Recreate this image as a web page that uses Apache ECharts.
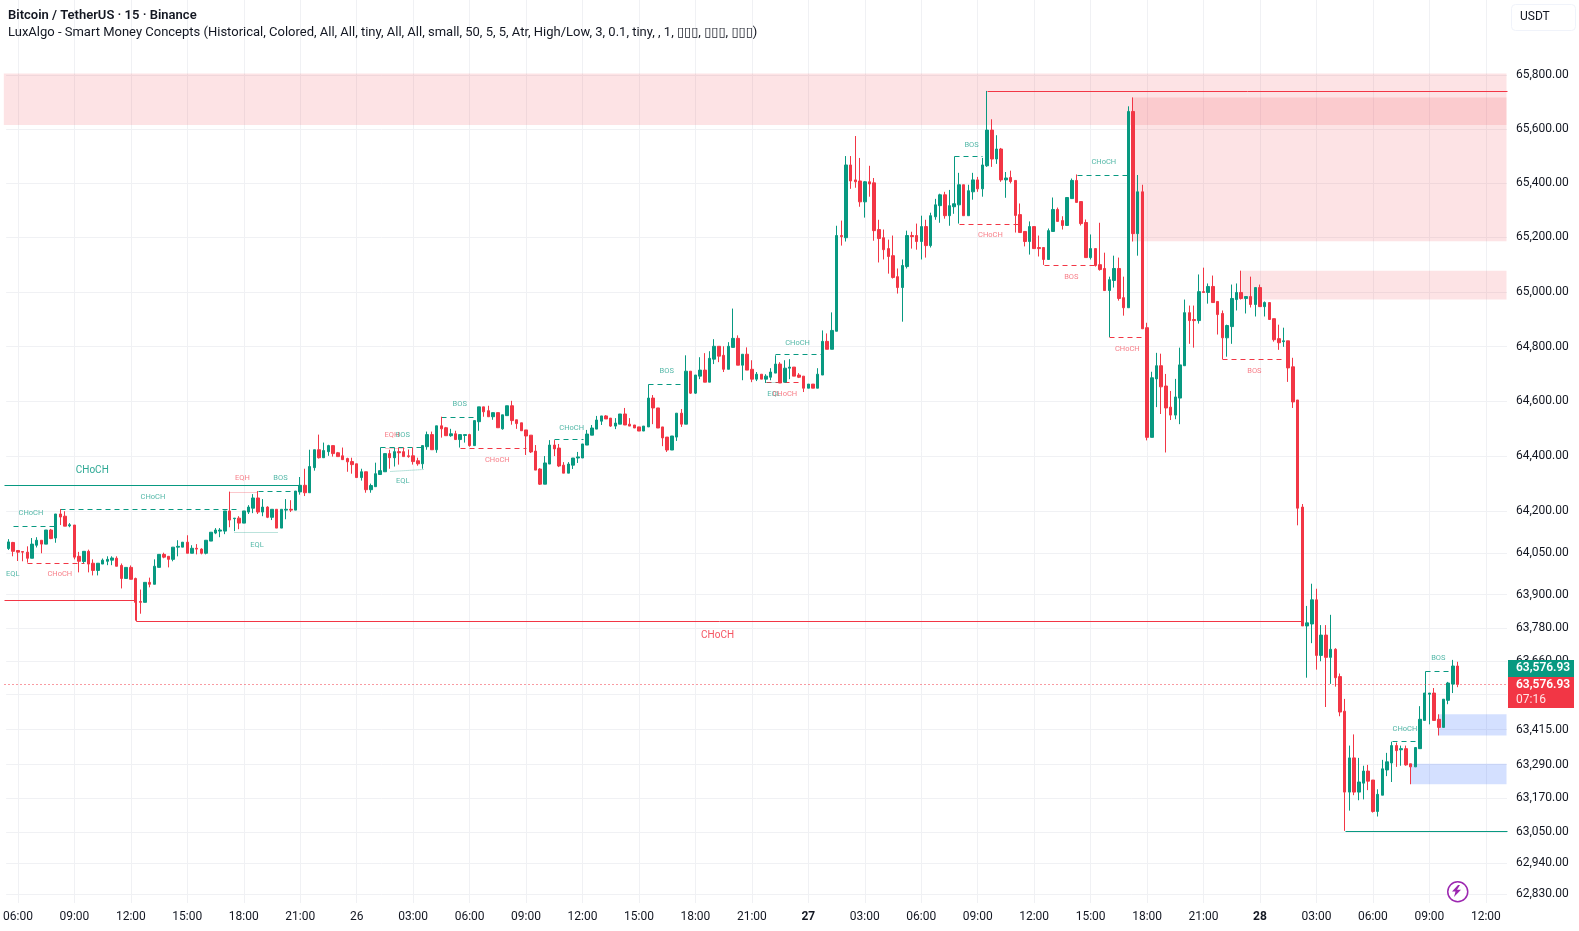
<!DOCTYPE html>
<html><head><meta charset="utf-8">
<style>html,body{margin:0;padding:0;background:#fff}#c{width:1579px;height:931px}</style>
<script src="https://cdn.jsdelivr.net/npm/echarts@6/dist/echarts.min.js"></script>
</head><body><div id="c"></div>
<script>
// tick labels every 12 bars, first one on bar 2
const timeTicks=["06:00","09:00","12:00","15:00","18:00","21:00","26","03:00","06:00","09:00","12:00","15:00","18:00","21:00","27","03:00","06:00","09:00","12:00","15:00","18:00","21:00","28","03:00","06:00","09:00","12:00"];
const priceTicks=[65800,65600,65400,65200,65000,64800,64600,64400,64200,64050,63900,63780,63660,63540,63415,63290,63170,63050,62940,62830];
const lastPrice=63576.93;
// [open, close, low, high]
const candlesDay25=[[64066,64090,64061,64100],[64088,64056,64038,64090],[64059,64053,64021,64059],[64055,64053,64020,64056],[64053,64031,64015,64074],[64031,64082,64031,64104],[64078,64096,64070,64107],[64096,64082,64049,64096],[64082,64133,64082,64133],[64133,64102,64100,64137],
[64104,64191,64087,64191],[64191,64180,64151,64209],[64183,64147,64147,64201],[64148,64152,64143,64158],[64151,64035,64027,64151],[64038,64020,63980,64054],[64019,64056,64013,64056],[64056,64010,63980,64062],[64013,63987,63969,64027],[63987,64013,63969,64013],
[64010,64024,64010,64030],[64020,64027,64006,64038],[64024,64032,64006,64038],[64031,64002,64002,64038],[64005,63958,63922,64012],[63958,63998,63958,63998],[63998,63955,63955,64005],[63958,63872,63806,63961],[63875,63872,63831,63918],[63872,63944,63872,63944],
[63944,63937,63926,63961],[63937,64002,63937,64027],[63998,64045,63998,64045],[64045,64035,64031,64051],[64038,64027,63998,64038],[64027,64071,64020,64071],[64071,64074,64038,64096],[64071,64089,64071,64089],[64089,64049,64049,64114],[64049,64067,64049,64078],
[64067,64064,64045,64082],[64064,64049,64045,64067],[64049,64096,64045,64096],[64093,64125,64093,64125],[64122,64133,64118,64140],[64129,64133,64107,64140],[64129,64202,64118,64202],[64202,64169,64143,64272],[64174,64176,64129,64176],[64176,64158,64136,64183],
[64158,64202,64158,64202],[64198,64216,64191,64223],[64212,64249,64194,64263],[64249,64198,64191,64274],[64198,64216,64183,64245],[64216,64179,64176,64219],[64179,64208,64169,64208],[64208,64140,64140,64208],[64140,64208,64140,64208],[64205,64208,64172,64245],
[64208,64205,64198,64241],[64205,64274,64205,64274],[64271,64295,64261,64325],[64295,64268,64256,64355],[64268,64363,64268,64424],[64359,64424,64348,64424],[64424,64395,64392,64479],[64395,64421,64395,64450],[64417,64439,64402,64442],[64439,64410,64399,64439],
[64413,64399,64399,64416],[64402,64388,64388,64432],[64392,64380,64344,64395],[64381,64370,64337,64395]];
const candlesDay26=[[64373,64323,64323,64373],[64323,64344,64312,64355],[64344,64279,64268,64344],[64279,64294,64268,64301],[64290,64337,64290,64377],[64334,64348,64334,64348],[64344,64410,64344,64410],[64410,64395,64355,64424],[64395,64417,64363,64432],[64417,64413,64370,64432],
[64417,64399,64399,64432],[64402,64399,64395,64425],[64402,64381,64370,64432],[64384,64373,64366,64395],[64373,64439,64355,64439],[64435,64479,64424,64490],[64479,64424,64424,64490],[64424,64511,64413,64511],[64511,64500,64468,64544],[64504,64475,64475,64507],
[64475,64482,64471,64500],[64482,64461,64461,64493],[64461,64479,64432,64479],[64476,64479,64450,64479],[64479,64439,64435,64482],[64439,64530,64439,64530],[64526,64580,64493,64580],[64580,64562,64544,64580],[64566,64544,64544,64584],[64544,64559,64533,64559],
[64559,64504,64504,64559],[64500,64551,64497,64551],[64548,64584,64548,64584],[64584,64530,64515,64602],[64533,64519,64500,64533],[64522,64493,64493,64522],[64496,64474,64405,64496],[64477,64416,64412,64477],[64419,64350,64350,64441],[64354,64299,64296,64357],
[64299,64376,64299,64401],[64372,64441,64372,64459],[64441,64427,64401,64459],[64430,64365,64361,64445],[64368,64339,64339,64379],[64339,64372,64339,64379],[64368,64394,64354,64394],[64394,64398,64376,64416],[64394,64445,64394,64445],[64441,64481,64441,64496],
[64477,64503,64477,64514],[64499,64532,64499,64547],[64528,64547,64514,64547],[64547,64536,64536,64550],[64539,64510,64507,64539],[64510,64521,64499,64539],[64517,64554,64517,64554],[64554,64514,64514,64576],[64517,64510,64510,64539],[64514,64503,64503,64514],
[64507,64492,64492,64507],[64492,64510,64492,64510],[64507,64612,64507,64612],[64612,64576,64517,64623],[64576,64503,64503,64576],[64507,64467,64437,64507],[64470,64423,64416,64470],[64423,64474,64423,64474],[64470,64557,64456,64557],[64557,64517,64507,64572],
[64517,64710,64517,64768],[64710,64630,64627,64710],[64630,64696,64627,64696],[64692,64714,64681,64761],[64714,64670,64670,64776],[64670,64757,64670,64783],[64754,64801,64736,64827],[64801,64765,64743,64801],[64768,64717,64707,64801],[64717,64801,64717,64816],
[64797,64830,64797,64939],[64830,64732,64732,64841],[64732,64772,64677,64772],[64772,64714,64714,64797],[64717,64681,64670,64750],[64681,64699,64674,64707],[64699,64681,64681,64699],[64681,64692,64667,64699],[64688,64707,64677,64721],[64703,64736,64703,64768],
[64736,64667,64667,64743],[64670,64721,64670,64750],[64721,64725,64681,64754],[64725,64692,64692,64725],[64696,64688,64685,64703],[64692,64648,64634,64692]];
const candlesDay27=[[64648,64663,64648,64663],[64663,64648,64648,64663],[64648,64699,64648,64721],[64696,64819,64696,64859],[64819,64790,64790,64848],[64790,64859,64790,64925],[64856,65207,64856,65243],[65207,65203,65170,65262],[65199,65467,65185,65500],[65467,65408,65379,65500],
[65412,65405,65383,65574],[65408,65331,65313,65493],[65331,65405,65273,65408],[65405,65397,65350,65464],[65401,65225,65188,65419],[65229,65196,65108,65265],[65199,65155,65119,65229],[65159,65130,65067,65192],[65133,65053,65049,65207],[65056,65016,64994,65086],
[65016,65097,64891,65119],[65093,65207,65086,65225],[65207,65203,65159,65221],[65207,65185,65155,65251],[65185,65240,65119,65280],[65240,65170,65126,65265],[65170,65280,65163,65291],[65276,65320,65265,65342],[65317,65357,65254,65361],[65357,65280,65269,65368],
[65280,65317,65243,65375],[65313,65324,65287,65324],[65320,65394,65251,65438],[65394,65280,65280,65394],[65280,65372,65280,65394],[65368,65412,65339,65438],[65412,65379,65368,65423],[65379,65467,65350,65493],[65464,65596,65460,65741],[65596,65489,65460,65636],
[65489,65526,65471,65577],[65526,65412,65405,65530],[65412,65419,65346,65441],[65421,65406,65399,65446],[65410,65281,65218,65410],[65284,65218,65218,65325],[65222,65185,65167,65222],[65185,65240,65137,65259],[65240,65159,65159,65240],[65163,65159,65130,65207],
[65163,65119,65099,65163],[65119,65225,65119,65233],[65222,65303,65222,65347],[65303,65259,65259,65310],[65262,65244,65229,65278],[65244,65347,65244,65347],[65343,65410,65343,65417],[65410,65329,65329,65432],[65332,65251,65244,65332],[65255,65126,65126,65266],
[65126,65159,65119,65211],[65159,65097,65093,65159],[65100,65082,65078,65254],[65086,65005,65005,65144],[65005,65045,64835,65056],[65042,65086,65016,65133],[65086,64976,64968,65126],[64979,64942,64913,65056],[64942,65665,64942,65684],[65665,65214,65185,65717],
[65214,65368,65133,65430],[65368,64865,64865,65394],[64869,64469,64458,64887],[64469,64686,64469,64708],[64682,64730,64579,64777],[64730,64653,64554,64774],[64656,64576,64414,64700],[64579,64550,64532,64638],[64550,64616,64535,64682],[64612,64733,64517,64796],
[64730,64924,64730,64972],[64924,64895,64810,64950],[64899,64895,64796,64950],[64895,65001,64884,65064],[65001,64998,64998,65089],[64998,65020,64957,65031],[65020,64961,64961,65060],[64965,64917,64844,64965],[64921,64832,64754,64932],[64832,64877,64763,64880],
[64873,64976,64810,65027],[64972,64998,64932,65031],[64998,64976,64972,65078],[64976,64983,64921,64983],[64983,64954,64943,65056],[64954,65016,64910,65016]];
const candlesDay28=[[65016,64946,64946,65027],[64946,64961,64910,64965],[64961,64899,64899,64961],[64902,64825,64818,64902],[64829,64814,64788,64880],[64818,64821,64799,64869],[64821,64722,64671,64821],[64726,64598,64576,64759],[64605,64212,64150,64605],[64216,63787,63787,64227],
[63787,63798,63601,63859],[63794,63881,63725,63939],[63881,63681,63630,63921],[63681,63754,63660,63790],[63754,63674,63496,63790],[63674,63703,63579,63827],[63703,63601,63569,63707],[63605,63478,63463,63616],[63481,63192,63054,63525],[63192,63314,63126,63358],
[63314,63192,63181,63398],[63192,63228,63163,63314],[63224,63267,63166,63286],[63267,63231,63199,63289],[63235,63123,63119,63235],[63123,63184,63105,63202],[63181,63275,63181,63307],[63271,63300,63249,63332],[63296,63358,63228,63372],[63358,63340,63282,63369],
[63343,63347,63286,63358],[63347,63289,63286,63358],[63293,63282,63220,63293],[63282,63351,63282,63353],[63347,63452,63347,63499],[63448,63546,63448,63546],[63542,63546,63434,63546],[63546,63448,63448,63564],[63452,63423,63394,63470],[63423,63524,63423,63524],
[63520,63582,63506,63586],[63578,63643,63546,63665],[63643,63576.93,63567,63658]];
const LAST=318.4;
// [fromBar, toBar, topPrice, bottomPrice]
const supplyZones=[[-1,LAST,65806,65615],[239,LAST,65717,65186],[262,LAST,65078,64972]];
const demandZones=[[304,LAST,63470,63394],[298,LAST,63293,63220]];
// [fromBar, fromPrice, toBar, toPrice]
const solidGreen=[[-1,64295,62,64295],[284,63054,LAST,63054],[79,64434,79,64348],[136,64665,136,64612],[201,65500,201,65324],[301,63624,301,63546]];
const solidRed=[[-1,63881,27,63881],[27,63881,27,63806],[27,63806,275,63806],[208,65741,LAST,65741]];
const dashGreen=[[1,64148,10,64148],[11,64208,49,64208],[53,64274,61,64274],[79,64434,88,64434],[92,64543,100,64543],[116,64462,122,64462],[136,64665,144,64665],[163,64771,173,64771],[201,65500,207,65500],[227,65431,238,65431],[294,63375,300,63375],[301,63624,307,63624]];
const dashRed=[[4,64015,16,64015],[96,64430,110,64430],[161,64669,169,64669],[202,65250,215,65250],[220,65099,232,65099],[234,64835,242,64835],[258,64754,271,64754]];
const dotGreen=[[48,64126,57,64126],[81,64348,88,64354],[161,64670,164,64670]];
const dotRed=[[47,64272,53,64272],[80,64432,84,64432]];
// [bar, price, text]
const greenTags=[[4.75,64193,"CHoCH"],[0.9,63975,"EQL"],[30.7,64251,"CHoCH"],[52.8,64079,"EQL"],[57.8,64321,"BOS"],[83.8,64476,"BOS"],[83.8,64309,"EQL"],[95.9,64589,"BOS"],[119.7,64504,"CHoCH"],[139.9,64709,"BOS"],[167.7,64814,"CHoCH"],[162.7,64628,"EQL"],[204.7,65542,"BOS"],[232.8,65477,"CHoCH"],[296.8,63418,"CHoCH"],[303.9,63671,"BOS"]];
const redTags=[[10.9,63975,"CHoCH"],[49.7,64320,"EQH"],[81.5,64476,"EQH"],[103.9,64386,"CHoCH"],[165,64628,"CHoCH"],[208.7,65208,"CHoCH"],[225.9,65054,"BOS"],[237.8,64790,"CHoCH"],[264.8,64709,"BOS"]];
const bigTags=[[17.8,64348,"CHoCH","#089981"],[150.7,63751,"CHoCH","#f23645"]];

const UP="#089981",DOWN="#f23645",FONT="Roboto, 'DejaVu Sans', sans-serif";
const candles=[...candlesDay25,...candlesDay26,...candlesDay27,...candlesDay28];
const BARS=319;
const categories=Array.from({length:BARS},(_,i)=>i%12===2?(timeTicks[(i-2)/12]||""):"");
const isTick=i=>i%12===2;

function overlay(build){
  return function(params,api){
    const x0=api.coord([0,64000])[0], band=api.size([1,0])[0];
    const P=(i,p)=>[x0+i*band,api.coord([0,p])[1]];
    return {type:'group',children:build(P)};
  };
}
const lineEls=(P,list,color,dash,opacity)=>list.map(s=>{
  const a=P(s[0],s[1]),b=P(s[2],s[3]);
  return {type:'line',shape:{x1:Math.round(a[0])+.5,y1:Math.round(a[1])+.5,x2:Math.round(b[0])+.5,y2:Math.round(b[1])+.5},
    style:{stroke:color,lineWidth:1,lineDash:dash||null,opacity:opacity||1,fill:null},silent:true};
});
const zoneEls=(P,list,color)=>list.map(z=>{
  const a=P(z[0],z[2]),b=P(z[1],z[3]);
  return {type:'rect',shape:{x:a[0],y:a[1],width:b[0]-a[0],height:b[1]-a[1]},style:{fill:color},silent:true};
});
const tagEls=(P,list,color,size,opacity)=>list.map(t=>{
  const a=P(t[0],t[1]);
  return {type:'text',x:a[0],y:a[1],style:{text:t[2],fill:t[3]||color,font:size+'px '+FONT,align:'center',verticalAlign:'middle',opacity:opacity},silent:true};
});

const chart=echarts.init(document.getElementById('c'),null,{renderer:'canvas'});
chart.setOption({
  animation:false,
  backgroundColor:'#ffffff',
  grid:{left:-1.5,top:0,width:1508.5,height:903,containLabel:false},
  xAxis:{type:'category',data:categories,boundaryGap:true,
    axisLine:{show:false},axisTick:{show:false,alignWithLabel:true,interval:(i)=>isTick(i)},
    splitLine:{show:true,alignWithLabel:true,interval:(i)=>isTick(i),lineStyle:{color:'#f0f1f4',width:1}},
    axisLabel:{interval:(i)=>isTick(i),margin:8,fontFamily:FONT,fontSize:12,color:'#131722',hideOverlap:false,showMinLabel:true,showMaxLabel:true,
      formatter:(v)=>(v==='27'||v==='28')?'{b|'+v+'}':v,rich:{b:{fontWeight:'bold',fontSize:12,fontFamily:FONT,color:'#131722'}}}},
  yAxis:{type:'log',logBase:10,position:'right',min:62798,max:66079,
    axisLine:{show:false},
    axisTick:{show:false,customValues:priceTicks},
    splitLine:{show:true,lineStyle:{color:'#f0f1f4',width:1}},
    axisLabel:{customValues:priceTicks,inside:false,margin:9,fontFamily:FONT,fontSize:12,color:'#131722',
      formatter:(v)=>Number(v).toLocaleString('en-US',{minimumFractionDigits:2,maximumFractionDigits:2})}},
  series:[
    {type:'custom',z:1,silent:true,data:[[0,64000]],clip:false,renderItem:overlay(P=>[...zoneEls(P,supplyZones,'rgba(242,54,69,0.14)'),...zoneEls(P,demandZones,'rgba(41,98,255,0.2)')])},
    {type:'candlestick',z:3,data:candles,barWidth:3,
      itemStyle:{color:UP,color0:DOWN,borderColor:UP,borderColor0:DOWN,borderColorDoji:UP,borderWidth:1}},
    {type:'custom',z:2,silent:true,data:[[0,64000]],clip:false,renderItem:overlay(P=>[
      ...lineEls(P,solidGreen,UP),...lineEls(P,solidRed,DOWN),
      ...lineEls(P,dashGreen,UP,[5,4]),...lineEls(P,dashRed,DOWN,[5,4]),
      ...lineEls(P,dotGreen,UP,[1,1],.55),...lineEls(P,dotRed,DOWN,[1,1],.55),
      ...lineEls(P,[[-1,lastPrice,LAST,lastPrice]],DOWN,[1,3]),
      ...tagEls(P,greenTags,UP,7.5,.7),...tagEls(P,redTags,DOWN,7.5,.65),...tagEls(P,bigTags,UP,10,.85)
    ])}
  ],
  graphic:[
    {type:'text',z:100,left:8,top:9,style:{text:'Bitcoin / TetherUS · 15 · Binance',font:'600 13px '+FONT,fill:'#131722'}},
    {type:'text',z:100,left:8,top:26,style:{text:'LuxAlgo - Smart Money Concepts (Historical, Colored, All, All, tiny, All, All, small, 50, 5, 5, Atr, High/Low, 3, 0.1, tiny, , 1, ▯▯▯, ▯▯▯, ▯▯▯)',font:'13px '+FONT,fill:'#131722'}},
    {type:'rect',z:100,left:1511,top:4,shape:{width:64,height:26,r:4},style:{fill:'#fff',stroke:'#f0f3fa',lineWidth:1}},
    {type:'text',z:101,left:1520,top:11,style:{text:'USDT',font:'12px '+FONT,fill:'#131722'}},
    {type:'rect',z:100,left:1508,top:660,shape:{width:66,height:17},style:{fill:UP}},
    {type:'text',z:101,left:1516,top:662,style:{text:'63,576.93',font:'600 12px '+FONT,fill:'#fff'}},
    {type:'rect',z:100,left:1508,top:677,shape:{width:66,height:31},style:{fill:DOWN}},
    {type:'text',z:101,left:1516,top:679,style:{text:'63,576.93',font:'600 12px '+FONT,fill:'#fff'}},
    {type:'text',z:101,left:1516,top:694,style:{text:'07:16',font:'12px '+FONT,fill:'#ffe3e5'}},
    {type:'circle',z:100,left:1447,top:881,shape:{r:10},style:{fill:'#fff',stroke:'#9c27b0',lineWidth:1.5}},
    {type:'polygon',z:101,left:1452,top:885,shape:{points:[[6,0],[0,6.5],[3.5,6.5],[2,12],[9,4.8],[5,4.8],[8,0]]},style:{fill:'#9c27b0'}}
  ]
});
</script></body></html>
